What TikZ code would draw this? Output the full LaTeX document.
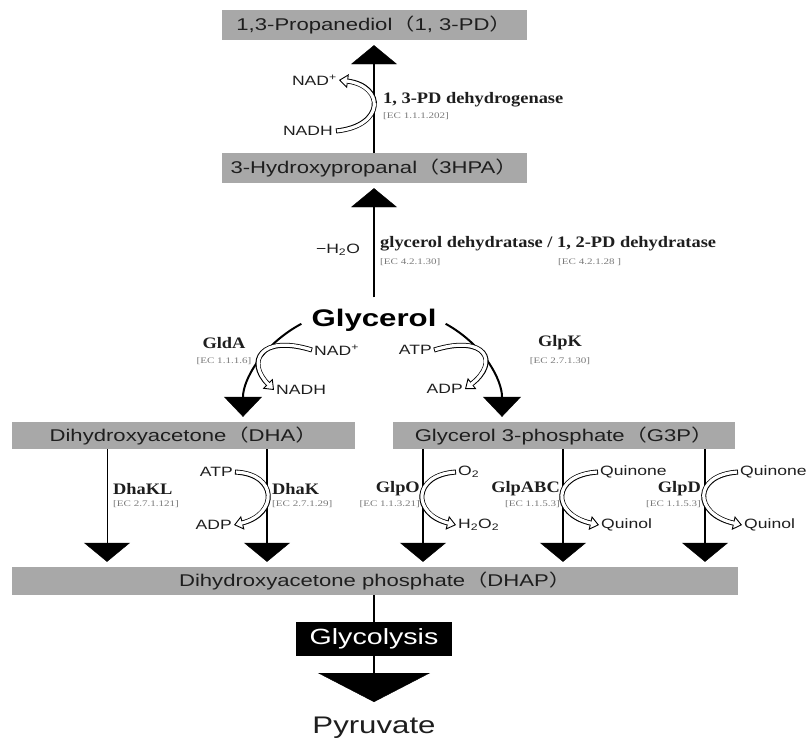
\documentclass[tikz,border=0pt]{standalone}
\usepackage{fontspec}
\setmainfont{Liberation Serif}[FakeStretch=1.3]
\setsansfont{Liberation Sans}[FakeStretch=1.3]
\newfontfamily\enzfont{Liberation Serif}[FakeStretch=1.15]
\newfontfamily\cjk{Noto Sans CJK SC}[FakeStretch=1.3]
\usetikzlibrary{arrows.meta}
\definecolor{boxgray}{RGB}{168,168,168}
\definecolor{ecgray}{RGB}{120,120,120}
\definecolor{txt}{RGB}{30,30,30}
\newcommand\lpar{{\cjk （}}
\newcommand\rpar{{\cjk ）}}
\newcommand\cofarrow[1]{%
  \draw[line width=5pt,-{Triangle[width=14pt,length=9pt,fill=white,line width=0.9pt]}] #1;
  \draw[line width=3.2pt,white,shorten >=7.6pt,shorten <=0.9pt] #1;
}
\begin{document}
\begin{tikzpicture}[x=1pt,y=-1pt,
  box/.style={fill=boxgray,text=txt,minimum height=30pt,inner sep=0pt,
    font=\sffamily\fontsize{17}{20}\selectfont},
  enz/.style={font=\enzfont\bfseries\fontsize{16}{18}\selectfont,inner sep=0pt,text=txt},
  ec/.style={font=\rmfamily\fontsize{8.5}{10}\selectfont,inner sep=0pt,text=ecgray},
  small/.style={font=\sffamily\fontsize{13.5}{15}\selectfont,inner sep=0pt,text=txt},
  bigarrow/.style={line width=2pt,-{Triangle[width=46pt,length=19pt,line width=0.4pt]}},
  thinarrow/.style={line width=1pt,-{Triangle[width=46pt,length=19pt,line width=0.4pt]}},
  curvearrow/.style={line width=2pt,-{Triangle[width=38pt,length=20pt,line width=0.4pt]}},
  hugearrow/.style={line width=1.5pt,-{Triangle[width=112pt,length=29pt,line width=0.4pt]}}]
\useasboundingbox (0,0) rectangle (810,737);

% boxes
\node[box,minimum width=305pt] (pd) at (374,25) {1,3-Propanediol\lpar 1, 3-PD\rpar};
\node[box,minimum width=305pt] (hpa) at (374,168) {3-Hydroxypropanal\lpar 3HPA\rpar};
\node[box,minimum width=343pt,minimum height=27pt] (dha) at (183.5,435.5) {Dihydroxyacetone\lpar DHA\rpar};
\node[box,minimum width=342pt,minimum height=27pt] (g3p) at (564,435.5) {Glycerol 3-phosphate\lpar G3P\rpar};
\node[box,minimum width=726pt,minimum height=28pt] (dhap) at (375,581) {Dihydroxyacetone phosphate\lpar DHAP\rpar};
\node[fill=black,text=white,minimum width=156pt,minimum height=34pt,inner sep=0pt,
  font=\sffamily\fontsize{22}{24}\selectfont] (glyc) at (374,639) {Glycolysis};
\node[anchor=base,inner sep=0pt,text=txt,font=\sffamily\fontsize{24}{26}\selectfont] (pyr) at (374,733) {Pyruvate};
\node[anchor=base,inner sep=0pt,text=black,font=\sffamily\bfseries\fontsize{24}{26}\selectfont] (gly) at (374,326) {Glycerol};

% top section labels
\node[small,anchor=east] (nadA) at (337,80) {NAD\textsuperscript{+}};
\node[small,anchor=east] (nadhA) at (333,131) {NADH};
\node[enz,anchor=west] (pdh) at (383,100) {1, 3-PD dehydrogenase};
\node[ec,anchor=west] (pdhec) at (383,116) {[EC 1.1.1.202]};
\node[small] (water) at (338,250) {−H\textsubscript{2}O};
\node[enz,anchor=west] (gdh) at (380,244) {glycerol dehydratase / 1, 2-PD dehydratase};
\node[ec,anchor=west] (gdhec1) at (380,262) {[EC 4.2.1.30]};
\node[ec,anchor=west] (gdhec2) at (558,262) {[EC 4.2.1.28 ]};

% glycerol branches labels
\node[enz] (glda) at (224,343) {GldA};
\node[ec] (gldaec) at (224,361) {[EC 1.1.1.6]};
\node[small,anchor=west] (nadB) at (314,350) {NAD\textsuperscript{+}};
\node[small,anchor=west] (nadhB) at (276,390) {NADH};
\node[enz] (glpk) at (560,343) {GlpK};
\node[ec] (glpkec) at (560,361) {[EC 2.7.1.30]};
\node[small,anchor=east] (atpC) at (432,350) {ATP};
\node[small,anchor=east] (adpC) at (463,389) {ADP};

% lower labels
\node[enz,anchor=west] (dhakl) at (113,489) {DhaKL};
\node[ec,anchor=west] (dhaklec) at (113,504) {[EC 2.7.1.121]};
\node[enz,anchor=west] (dhak) at (272,489) {DhaK};
\node[ec,anchor=west] (dhakec) at (272,504) {[EC 2.7.1.29]};
\node[small,anchor=east] (atpD) at (233,472) {ATP};
\node[small,anchor=east] (adpD) at (232,525) {ADP};
\node[enz,anchor=east] (glpo) at (420,489) {GlpO};
\node[ec,anchor=east] (glpoec) at (420,504) {[EC 1.1.3.21]};
\node[small,anchor=west] (o2) at (458,472) {O\textsubscript{2}};
\node[small,anchor=west] (h2o2) at (458,525) {H\textsubscript{2}O\textsubscript{2}};
\node[enz,anchor=east] (glpabc) at (560,489) {GlpABC};
\node[ec,anchor=east] (glpabcec) at (560,504) {[EC 1.1.5.3]};
\node[small,anchor=west] (quiF) at (600,472) {Quinone};
\node[small,anchor=west] (qolF) at (601,525) {Quinol};
\node[enz,anchor=east] (glpd) at (701,489) {GlpD};
\node[ec,anchor=east] (glpdec) at (701,504) {[EC 1.1.5.3]};
\node[small,anchor=west] (quiG) at (740,472) {Quinone};
\node[small,anchor=west] (qolG) at (744,525) {Quinol};

% main vertical arrows
\draw[bigarrow,shorten >=5pt] (hpa.north) -- (pd.south);
\draw[bigarrow,shorten <=11pt,shorten >=5pt] (gly.north) -- (hpa.south);

% glycerol branches
\coordinate (xL) at (243,0);
\coordinate (xR) at (502,0);
\draw[curvearrow,shorten >=5pt] ([shift={(-10pt,-4pt)}]gly.west) .. controls (262,345) and (243,380) .. (dha.north -| xL);
\draw[curvearrow,shorten >=5pt] ([shift={(9pt,-4pt)}]gly.east) .. controls (484,345) and (502,380) .. (g3p.north -| xR);

% lower vertical arrows
\coordinate (x1) at (107,0);
\coordinate (x2) at (267,0);
\coordinate (x3) at (423,0);
\coordinate (x4) at (563,0);
\coordinate (x5) at (705,0);
\draw[thinarrow,shorten >=5pt] (dha.south -| x1) -- (dhap.north -| x1);
\draw[bigarrow,shorten >=5pt] (dha.south -| x2) -- (dhap.north -| x2);
\draw[bigarrow,shorten >=5pt] (g3p.south -| x3) -- (dhap.north -| x3);
\draw[bigarrow,shorten >=5pt] (g3p.south -| x4) -- (dhap.north -| x4);
\draw[bigarrow,shorten >=5pt] (g3p.south -| x5) -- (dhap.north -| x5);

% glycolysis
\coordinate (apex) at (374,702);
\draw[line width=1.5pt] (dhap.south -| glyc.north) -- (glyc.north);
\draw[hugearrow] (glyc.south) -- (apex);

% cofactor hollow arrows
\cofarrow{([xshift=3pt]nadhA.east) .. controls (385,126) and (385,86) .. ([xshift=2pt]nadA.east)}
\cofarrow{([xshift=-2pt]nadB.west) .. controls (260,334) and (246,362) .. ([xshift=-2pt]nadhB.west)}
\cofarrow{([xshift=2pt]atpC.east) .. controls (486,334) and (500,362) .. ([xshift=2pt]adpC.east)}
\cofarrow{([xshift=2pt]atpD.east) .. controls (278,474) and (278,514) .. ([xshift=2pt]adpD.east)}
\cofarrow{([xshift=-2pt]o2.west) .. controls (412,475) and (412,514) .. ([xshift=-2pt]h2o2.west)}
\cofarrow{([xshift=-2pt]quiF.west) .. controls (551,475) and (551,514) .. ([xshift=-2pt]qolF.west)}
\cofarrow{([xshift=-2pt]quiG.west) .. controls (693,475) and (693,514) .. ([xshift=-2pt]qolG.west)}
\end{tikzpicture}
\end{document}
